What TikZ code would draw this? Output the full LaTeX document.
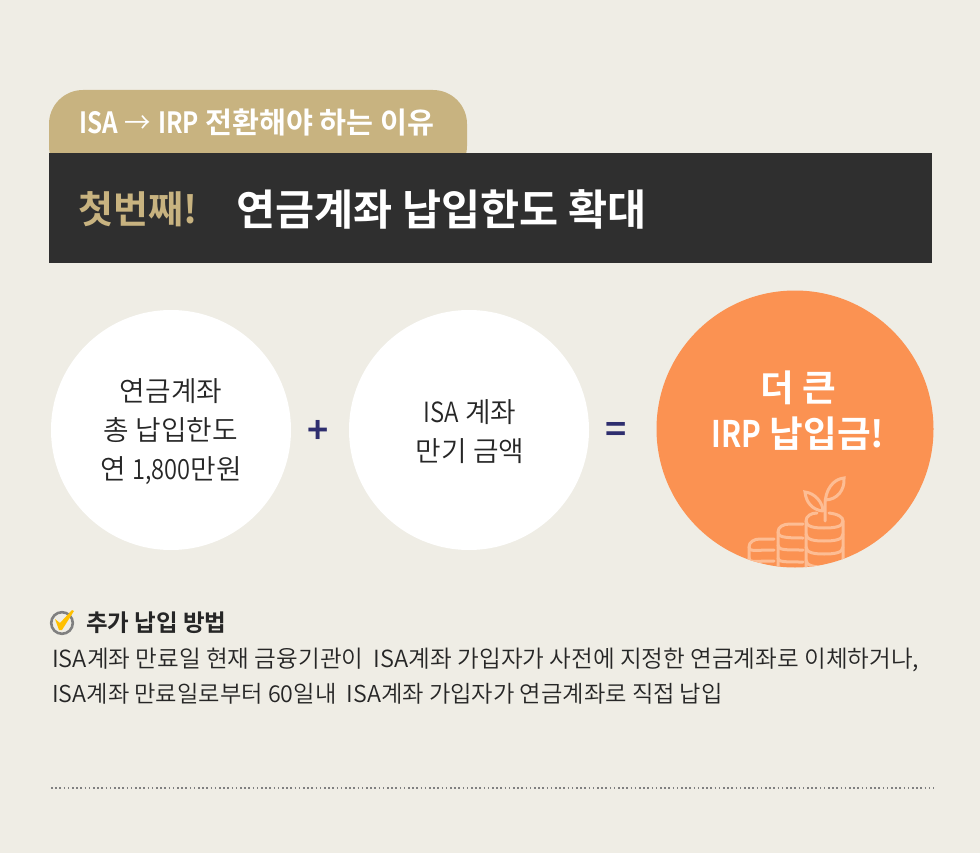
\documentclass[tikz,border=0pt]{standalone}
\usepackage{fontspec}
\setmainfont{Noto Sans CJK KR}
\newfontfamily\krreg{Noto Sans CJK KR DemiLight}
\newfontfamily\krbold{Noto Sans CJK KR Bold}
\newcommand{\narrow}[2]{\scalebox{#1}[1]{#2}}
\definecolor{bgc}{HTML}{EFEDE5}
\definecolor{goldc}{HTML}{C8B380}
\definecolor{darkc}{HTML}{2F2F2F}
\definecolor{orangec}{HTML}{FB9252}
\definecolor{iconc}{HTML}{FDBD94}
\definecolor{navyc}{HTML}{2E2E6E}
\definecolor{textc}{HTML}{262626}
\definecolor{checkc}{HTML}{FFC000}
\definecolor{ringc}{HTML}{808080}
\tikzset{
  x=1pt,y=-1pt,
  disc/.style={circle,fill=white,minimum size=240pt,inner sep=0pt},
  disctext/.style={align=center,text=textc,font=\krreg\fontsize{27.8}{39}\selectfont},
  opsign/.style={text=navyc,font=\krbold\fontsize{36}{36}\selectfont,inner sep=0pt},
  bodytext/.style={anchor=west,text=textc,inner sep=0pt,font=\krreg\fontsize{23.6}{28}\selectfont},
  coin/.style={draw=iconc,line width=3pt,line cap=round},
}
\begin{document}
\begin{tikzpicture}
\useasboundingbox (0,0) rectangle (980,853);
\fill[bgc] (0,0) rectangle (980,853);
% tab
\fill[goldc,rounded corners=34pt] (49,180) -- (49,90) -- (467,90) -- (467,180) -- cycle;
\fill[bgc] (40,154) rectangle (480,185);
% banner
\fill[darkc] (49,153) rectangle (932,263);
\node[text=white,font=\krbold\fontsize{29.3}{30}\selectfont,inner sep=0pt] (tabtext) at (257,122) {\narrow{.83}{ISA} {\krreg\narrow{.9}{→}} \narrow{.83}{IRP} 전환해야 하는 이유};
\node[anchor=west,text=goldc,font=\krbold\fontsize{38}{40}\selectfont,inner sep=0pt] (first) at (78,209) {첫번째!};
\node[anchor=west,text=white,font=\krbold\fontsize{42.5}{46}\selectfont,inner sep=0pt] (headline) at (236,209) {연금계좌 납입한도 확대};
% circles
\node[disc] (c1) at (171,430) {};
\node[disc] (c2) at (469,430) {};
\node[circle,fill=orangec,minimum size=277pt,inner sep=0pt] (c3) at (795,429) {};
\node[disctext] (t1) at (171,432) {연금계좌\\총 납입한도\\연 \narrow{.85}{1,800}만원};
\node[disctext] (t2) at (470,432) {\narrow{.86}{ISA} 계좌\\만기 금액};
\node[align=center,text=white,font=\krbold\fontsize{36.6}{46}\selectfont] (t3) at (798,411) {더 큰\\\narrow{.81}{IRP} 납입금!};
\node[opsign] (plus) at (318,432) {+};
\node[opsign] (equals) at (616,432) {=};
% coins icon
\begin{scope}
\clip (795,429) circle[radius=138.5];
\draw[coin] (774,539) -- (760,539) .. controls (754,539) and (749,542) .. (749,547) -- (749,575);
\draw[coin] (749,547) .. controls (749,552) and (754,550) .. (774,550);
\draw[coin] (749,558) .. controls (749,563) and (754,561) .. (774,561);
\draw[coin] (803,524) -- (790,524) .. controls (783,524) and (778,527) .. (778,532) -- (778,575);
\draw[coin] (778,532) .. controls (778,537) and (784,538) .. (803,538);
\draw[coin] (778,545) .. controls (778,550) and (784,550) .. (803,550);
\draw[coin] (778,558) .. controls (778,562) and (784,562) .. (803,562);
\draw[coin] (817,513) .. controls (811,513) and (806,516) .. (806,521) -- (806,575);
\draw[coin] (829,513) .. controls (838,514) and (843,517) .. (843,521) -- (843,575);
\draw[coin] (806,521) .. controls (806,527) and (815,528) .. (824,528) .. controls (834,528) and (843,527) .. (843,521);
\draw[coin] (806,534) .. controls (806,540) and (815,541) .. (824,541) .. controls (834,541) and (843,540) .. (843,534);
\draw[coin] (806,547) .. controls (806,553) and (815,554) .. (824,554) .. controls (834,554) and (843,553) .. (843,547);
\draw[coin] (806,560) .. controls (806,566) and (815,567) .. (824,567) .. controls (834,567) and (843,566) .. (843,560);
\draw[coin] (825,521) -- (825,505) .. controls (825,490) and (833,479) .. (844,478) .. controls (845,490) and (837,500) .. (825,500);
\draw[coin] (823,511) .. controls (823,503) and (815,493) .. (805,492) .. controls (806,502) and (812,510) .. (823,511);
\end{scope}
% check mark
\draw[draw=ringc,line width=2.6pt] (62,623) circle[radius=10.8];
\fill[checkc] (55,619) -- (60,623) -- (72,610) -- (74,611) -- (62,630) -- (59,630) -- cycle;
% extra
\node[anchor=west,text=textc,inner sep=0pt,font=\krbold\fontsize{23.5}{28}\selectfont] (addhead) at (86,623) {추가 납입 방법};
\node[bodytext] (line1) at (52,660) {ISA계좌 만료일 현재 금융기관이\ \ ISA계좌 가입자가 사전에 지정한 연금계좌로 이체하거나,};
\node[bodytext,font=\krreg\fontsize{23.25}{28}\selectfont] (line2) at (52,694) {ISA계좌 만료일로부터 60일내\ \ ISA계좌 가입자가 연금계좌로 직접 납입};
\draw[draw=ringc,line width=1.6pt,dash pattern=on 1.6pt off 2.6pt] (51,788) -- (934,788);
\end{tikzpicture}
\end{document}
